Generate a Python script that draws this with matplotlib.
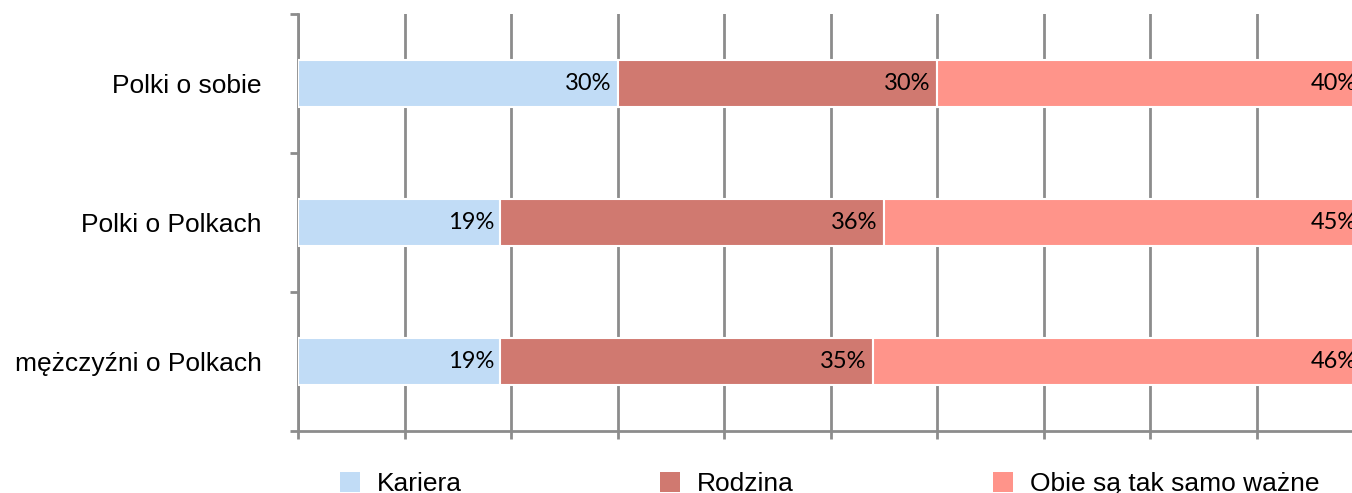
import matplotlib.pyplot as plt
import numpy as np
from matplotlib.patches import Patch

# Dane: odpowiedzi w procentach
grupy = ["Polki o sobie", "Polki o Polkach", "mężczyźni o Polkach"]
kariera = [30, 19, 19]
rodzina = [30, 36, 35]
obie = [40, 45, 46]
serie = ["Kariera", "Rodzina", "Obie są tak samo ważne"]
kolory = ["#C1DCF6", "#D07970", "#FF948A"]

SZARY = "#8C8C8C"

fig = plt.figure(figsize=(13.52, 4.93), dpi=100)
W, H = 1352, 493
ax = fig.add_axes([298 / W, 62 / H, 1065 / W, 417 / H])

y = np.arange(len(grupy))[::-1]
lewo = np.zeros(len(grupy))
for nazwa, wartosci, kolor in zip(serie, [kariera, rodzina, obie], kolory):
    wartosci = np.array(wartosci, dtype=float)
    ax.barh(y, wartosci, left=lewo, height=0.34, color=kolor,
            edgecolor="white", linewidth=1.5, zorder=3)
    for yi, l, v in zip(y, lewo, wartosci):
        ax.annotate(f"{v:.0f}%", xy=(l + v, yi), xytext=(-4.5, 0),
                    textcoords="offset points", ha="right", va="center",
                    fontsize=17, family="Lato", color="black", zorder=4)
    lewo += wartosci

ax.set_xlim(0, 100)
ax.set_ylim(-0.5, len(grupy) - 0.5)

# pionowa siatka co 10%
ax.set_xticks(np.arange(0, 101, 10))
ax.set_xticklabels([])
ax.grid(axis="x", color=SZARY, linewidth=2, zorder=0)
ax.set_axisbelow(True)

# podziałki na granicach kategorii, etykiety na środku
ax.set_yticks(np.arange(-0.5, len(grupy), 1.0))
ax.set_yticklabels([])
ax.set_yticks(y, minor=True)
ax.set_yticklabels(grupy, minor=True, fontsize=19, family="Liberation Sans")
ax.tick_params(axis="y", which="minor", length=0, pad=26)
ax.tick_params(axis="both", which="major", direction="out", length=6,
               width=2, color=SZARY)

for s in ["top", "right"]:
    ax.spines[s].set_visible(False)
for s in ["left", "bottom"]:
    ax.spines[s].set_color(SZARY)
    ax.spines[s].set_linewidth(2)

uchwyty = [Patch(facecolor=k, edgecolor="none") for k in kolory]
fig.legend(uchwyty, serie, loc="center left",
           bbox_to_anchor=(340 / W, 1 - 484 / H), ncol=3, frameon=False,
           prop={"family": "Liberation Sans", "size": 19},
           handlelength=0.76, handleheight=0.76, handletextpad=0.64,
           columnspacing=7.52, borderpad=0, borderaxespad=0)

fig.savefig("out.png", dpi=100)
